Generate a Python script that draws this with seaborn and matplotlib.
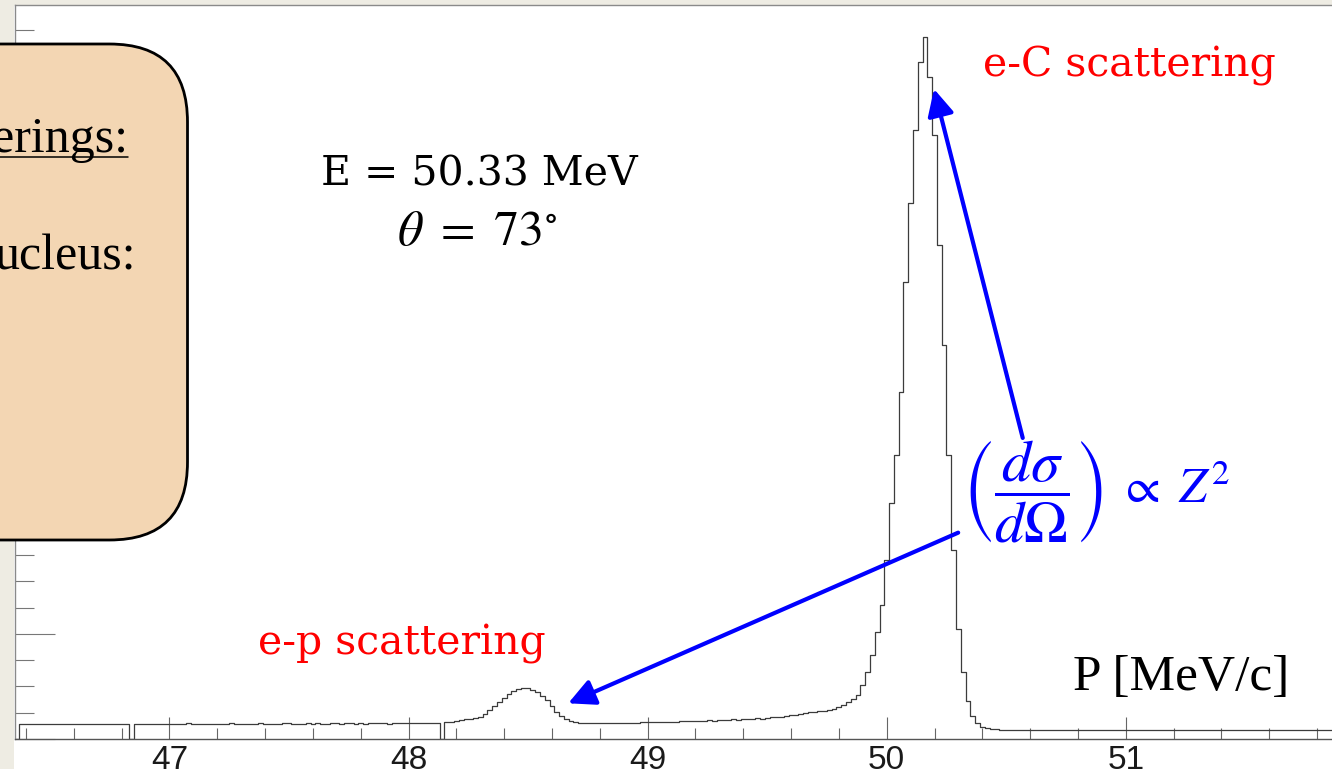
import numpy as np
import pandas as pd
import matplotlib
matplotlib.use("Agg")
import matplotlib.pyplot as plt
import seaborn as sns
from matplotlib.patches import FancyBboxPatch, Rectangle
from matplotlib.lines import Line2D
from matplotlib.ticker import MultipleLocator

# ---------------- data (histogram of scattered electron momentum) ----------------
bin_start = 46.35          # MeV/c, left edge of first bin
bin_width = 0.02           # MeV/c
# bins centred 46.36 ... 48.12
counts_low = [0, 141, 143, 140, 144, 142, 139, 143, 145, 141,
              144, 146, 142, 140, 143, 145, 141, 144, 147, 143,
              145, 142, 144, 146, 0, 142, 146, 143, 141, 145,
              147, 144, 142, 146, 143, 145, 148, 144, 142, 146,
              144, 147, 145, 143, 146, 148, 145, 143, 147, 144,
              146, 149, 145, 147, 144, 146, 148, 150, 146, 144,
              147, 149, 146, 148, 145, 147, 150, 148, 146, 149,
              151, 147, 149, 146, 148, 150, 152, 149, 147, 150,
              148, 151, 149, 152, 150, 148, 151, 153, 150]
# bin centred 48.14
counts_gap = [0]
# bins centred 48.16 ... 48.98 (e-p peak)
counts_ep = [158, 163, 170, 178, 186, 194, 203, 214, 240, 272,
             312, 350, 390, 425, 455, 474, 488, 486, 470, 445,
             410, 368, 318, 260, 220, 190, 172, 162, 157, 155,
             153, 156, 152, 154, 151, 155, 153, 156, 154, 157,
             155, 158]
# bins centred 49.00 ... 50.46 (radiative tail + e-C peak)
counts_c = [160, 158, 162, 160, 165, 163, 166, 168, 171, 170,
            174, 172, 176, 178, 175, 180, 182, 181, 186, 184,
            188, 192, 190, 196, 194,
            200, 205, 210, 214, 222, 226, 232, 240, 246, 254,
            260, 266, 270,
            274, 290, 308, 328, 350, 378, 420, 510, 640, 800,
            1020, 1280, 1700, 2250, 2700, 3300, 4350, 5100, 5800, 6450,
            6690, 6300, 5750, 4700, 3750, 2700, 1800, 1050, 640, 360,
            220, 150, 115, 100, 95, 92]
# bins centred 50.48 ... 51.90
counts_high = [90, 88, 89, 87, 88, 86, 89, 87, 85, 88,
               87, 89, 86, 88, 85, 87, 89, 86, 84, 87,
               86, 88, 85, 87, 84, 86, 88, 85, 83, 86,
               88, 85, 87, 84, 86, 85, 83, 86, 84, 87,
               85, 83, 86, 84, 82, 85, 87, 84, 86, 83,
               85, 82, 84, 86, 83, 85, 82, 84, 86, 83,
               81, 84, 82, 85, 83, 81, 84, 82, 85, 83,
               82, 84]

x_limits = (46.354, 51.896)
y_limits = (0, 6990)

counts = counts_low + counts_gap + counts_ep + counts_c + counts_high
edges = bin_start + bin_width * np.arange(len(counts) + 1)
centers = edges[:-1] + bin_width / 2
df = pd.DataFrame({"P": centers, "N": counts})

# ---------------- style ----------------
sns.set_theme(style="white")
plt.rcParams["font.family"] = ["Liberation Sans", "DejaVu Sans"]
plt.rcParams["mathtext.fontset"] = "stix"

W, H = 1332, 769
fig = plt.figure(figsize=(W / 100, H / 100), dpi=100)
fig.patch.set_facecolor("white")


def fx(px):
    return px / W


def fy(py):
    return 1 - py / H


ax = fig.add_axes([fx(15), fy(739), fx(1340) - fx(15), fy(5) - fy(739)])
ax.set_facecolor("white")

sns.histplot(data=df, x="P", weights="N", bins=[float(e) for e in edges],
             element="step", fill=False, color="#3c3c3c", linewidth=0.9, ax=ax)

ax.set_xlim(*x_limits)
ax.set_ylim(*y_limits)
ax.set_xlabel("")
ax.set_ylabel("")

ax.xaxis.set_major_locator(MultipleLocator(1))
ax.xaxis.set_minor_locator(MultipleLocator(0.2))
ax.yaxis.set_major_locator(MultipleLocator(1000))
ax.yaxis.set_minor_locator(MultipleLocator(250))

ax.tick_params(axis="x", which="major", direction="in", length=16, width=0.8,
               color="#666666", labelsize=24, labelcolor="#1a1a1a", pad=4,
               bottom=True, top=False)
ax.tick_params(axis="x", which="minor", direction="in", length=8, width=0.8,
               color="#666666", bottom=True, top=False)
ax.tick_params(axis="y", which="major", direction="in", length=29, width=0.8,
               color="#777777", left=True, right=False, labelleft=False)
ax.tick_params(axis="y", which="minor", direction="in", length=14, width=0.8,
               color="#777777", left=True, right=False)

for side, col, lw in [("top", "#8a8a8a", 1.0), ("left", "#8a8a8a", 1.0),
                      ("bottom", "#555555", 1.0)]:
    ax.spines[side].set_color(col)
    ax.spines[side].set_linewidth(lw)
ax.spines["right"].set_visible(False)

# ---------------- slide background bands ----------------
beige = "#EEECE3"
fig.add_artist(Rectangle((0, fy(4.5)), 1, 1 - fy(4.5), transform=fig.transFigure,
                         facecolor=beige, edgecolor="none", zorder=-1))
fig.add_artist(Rectangle((0, 0), fx(14.5), 1, transform=fig.transFigure,
                         facecolor=beige, edgecolor="none", zorder=-1))

# ---------------- rounded info box (partly off-slide) ----------------
box = FancyBboxPatch((-1.2, (H - 540) / 100), 1.2 + 1.875, (540 - 44) / 100,
                     boxstyle="round,pad=0,rounding_size=0.78",
                     transform=fig.dpi_scale_trans, facecolor="#F3D6B3",
                     edgecolor="black", linewidth=2.0, zorder=10)
fig.add_artist(box)
fig.text(1.28, (H - 152) / 100, "erings:", transform=fig.dpi_scale_trans,
         ha="right", va="baseline", fontsize=36, family="Liberation Serif",
         color="black", zorder=11)
fig.add_artist(Line2D([0, 1.28], [(H - 157) / 100] * 2,
                      transform=fig.dpi_scale_trans, color="black",
                      linewidth=1.1, zorder=11))
fig.text(1.36, (H - 270) / 100, "ucleus:", transform=fig.dpi_scale_trans,
         ha="right", va="baseline", fontsize=36, family="Liberation Serif",
         color="black", zorder=11)

# ---------------- annotations ----------------
fig.text(fx(983), fy(77), "e-C scattering", ha="left", va="baseline",
         fontsize=29.5, family="DejaVu Serif", color="#FF0000")
fig.text(fx(258), fy(654), "e-p scattering", ha="left", va="baseline",
         fontsize=29.5, family="DejaVu Serif", color="#FF0000")
fig.text(fx(479), fy(186), "E = 50.33 MeV", ha="center", va="baseline",
         fontsize=29.5, family="DejaVu Serif", color="black")
fig.text(fx(477), fy(245), r"$\theta\ =\ 73^{\circ}$", ha="center", va="baseline",
         fontsize=36, color="black")
fig.text(fx(1073), fy(690), "P [MeV/c]", ha="left", va="baseline",
         fontsize=37, family="Liberation Serif", color="black")
fig.text(fx(962), fy(492),
         r"$\left(\dfrac{d\sigma}{d\Omega}\right)$",
         ha="left", va="center", fontsize=42, color="#0000FF")
fig.text(fx(1118), fy(503), r"$\propto\ Z^{2}$",
         ha="left", va="baseline", fontsize=36, color="#0000FF")

arrow_kw = dict(arrowstyle="-|>,head_length=0.8,head_width=0.4", color="#0000FF",
                lw=3, shrinkA=0, shrinkB=0, mutation_scale=20)
ax.annotate("", xy=(50.198, 6190), xytext=(50.569, 2867),
            arrowprops=arrow_kw, annotation_clip=False)
ax.annotate("", xy=(48.668, 340), xytext=(50.299, 1965),
            arrowprops=arrow_kw, annotation_clip=False)

fig.savefig("out.png", dpi=100)
